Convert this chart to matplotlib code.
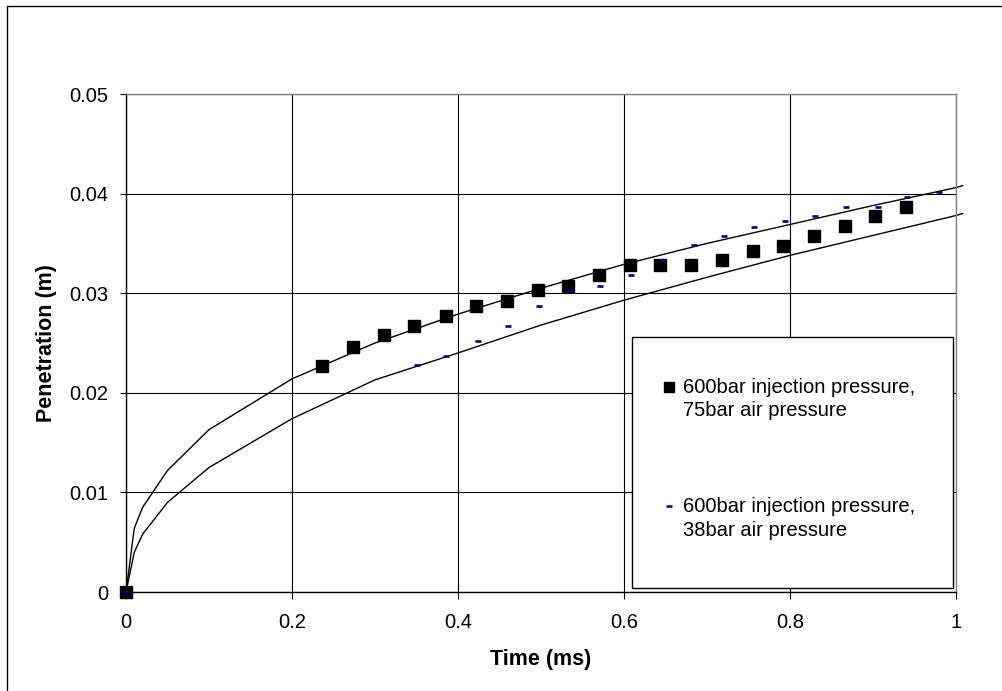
import matplotlib
matplotlib.use("Agg")
import matplotlib.pyplot as plt
import numpy as np
from matplotlib.lines import Line2D
from matplotlib.patches import Rectangle
from matplotlib.legend_handler import HandlerLine2D

plt.rcParams['font.family'] = ['Liberation Sans', 'DejaVu Sans']

# measured spray tip penetration, 600bar injection / 75bar air
t_75 = [0, 0.236, 0.273, 0.311, 0.347, 0.385, 0.422, 0.459, 0.496, 0.532, 0.570,
        0.607, 0.643, 0.681, 0.718, 0.755, 0.791, 0.829, 0.866, 0.902, 0.940]
p_75 = [0, 0.0227, 0.0246, 0.0258, 0.0267, 0.0277, 0.0287, 0.0292, 0.0303, 0.0307, 0.0318,
        0.0328, 0.0328, 0.0328, 0.0333, 0.0342, 0.0347, 0.0357, 0.0367, 0.0378, 0.0387]

# measured spray tip penetration, 600bar injection / 38bar air
t_38 = [0, 0.350, 0.386, 0.424, 0.460, 0.498, 0.535, 0.571, 0.609, 0.645,
        0.684, 0.721, 0.757, 0.794, 0.830, 0.868, 0.906, 0.941, 0.980]
p_38 = [0, 0.0228, 0.0237, 0.0252, 0.0267, 0.0287, 0.0303, 0.0307, 0.0318, 0.0333,
        0.0348, 0.0357, 0.0366, 0.0372, 0.0378, 0.0387, 0.0387, 0.0397, 0.0402]

# correlation curves (solid lines), they run a little past the axis end
t_fit = [0, 0.01, 0.02, 0.05, 0.1, 0.2, 0.3, 0.4, 0.5, 0.6, 0.7, 0.8, 0.9, 1.0, 1.008]
fit_75 = [0, 0.0064, 0.0085, 0.0122, 0.0163, 0.0214, 0.0250, 0.0279, 0.0305,
          0.0329, 0.0350, 0.0369, 0.0388, 0.0406, 0.0408]
fit_38 = [0, 0.0040, 0.0058, 0.0090, 0.0125, 0.0174, 0.0213, 0.0240, 0.0268,
          0.0293, 0.0316, 0.0338, 0.0358, 0.0378, 0.0380]

x_ticks = [0, 0.2, 0.4, 0.6, 0.8, 1.0]
x_labels = ['0', '0.2', '0.4', '0.6', '0.8', '1']
y_ticks = [0, 0.01, 0.02, 0.03, 0.04, 0.05]
y_labels = ['0', '0.01', '0.02', '0.03', '0.04', '0.05']

label_75 = '600bar injection pressure,\n75bar air pressure'
label_38 = '600bar injection pressure,\n38bar air pressure'


class FirstLineHandler(HandlerLine2D):
    """Puts the legend marker level with the first line of a two-line label."""
    def __init__(self, shift, **kw):
        super().__init__(**kw)
        self.shift = shift

    def create_artists(self, *args, **kwargs):
        artists = super().create_artists(*args, **kwargs)
        for a in artists:
            a.set_ydata(np.asarray(a.get_ydata(), dtype=float) + self.shift)
        return artists


W, H = 1003, 691
fig = plt.figure(figsize=(W / 100, H / 100), dpi=100)
ax = fig.add_axes([126 / W, 1 - 592 / H, 830 / W, 498 / H])

ax.plot(t_fit, fit_75, color='black', lw=1.0, zorder=2, clip_on=False)
ax.plot(t_fit, fit_38, color='black', lw=1.0, zorder=2, clip_on=False)
ax.plot(t_75, p_75, linestyle='none', marker='s', markersize=8, color='black',
        clip_on=False, zorder=3)
ax.plot(t_38, p_38, linestyle='none', marker='_', markersize=3.8, markeredgewidth=1.9,
        color='#000080', clip_on=False, zorder=3)

ax.set_xlim(0, 1)
ax.set_ylim(0, 0.05)
ax.set_xticks(x_ticks)
ax.set_xticklabels(x_labels)
ax.set_yticks(y_ticks)
ax.set_yticklabels(y_labels)
ax.tick_params(axis='x', length=5, width=0.8, pad=10, labelsize=14.5)
ax.tick_params(axis='y', length=4, width=0.8, pad=9, labelsize=14.5)
ax.grid(True, color='black', lw=0.8)
ax.set_axisbelow(True)
for side in ['left', 'bottom']:
    ax.spines[side].set_color('black')
    ax.spines[side].set_linewidth(1.0)
for side in ['top', 'right']:
    ax.spines[side].set_color('#808080')
    ax.spines[side].set_linewidth(1.0)

ax.set_xlabel('Time (ms)', fontsize=15.5, fontweight='bold')
ax.set_ylabel('Penetration (m)', fontsize=15.5, fontweight='bold')
ax.xaxis.set_label_coords(0.5, -(649 - 592) / 498)
ax.yaxis.set_label_coords(-(126 - 57) / 830, 0.5)

# legend box drawn separately so its size matches the original
ax.add_patch(Rectangle((632 / W, 1 - 588 / H), 321 / W, 251 / H, transform=fig.transFigure,
                       facecolor='white', edgecolor='black', lw=1.0, clip_on=False, zorder=4))
h_75 = Line2D([], [], linestyle='none', marker='s', markersize=7, color='black')
h_38 = Line2D([], [], linestyle='none', marker='_', markersize=4, markeredgewidth=1.8,
              color='#000080')
leg = ax.legend([h_75, h_38], [label_75, label_38], loc='upper left',
                bbox_to_anchor=(663 / W, 1 - 378 / H), bbox_transform=fig.transFigure,
                frameon=False, borderpad=0, borderaxespad=0, handlelength=0.6,
                handletextpad=0.4, labelspacing=3.8, fontsize=14.5,
                handler_map={Line2D: FirstLineHandler(shift=9.5)})
leg.set_zorder(5)
for t in leg.get_texts():
    t.set_linespacing(1.3)

# outer chart border (only top and left visible in the original)
fig.add_artist(Rectangle((7 / W, -0.1), 2, 1.1 - 6 / H, transform=fig.transFigure,
                         fill=False, edgecolor='black', lw=1.0))

fig.savefig('out.png', dpi=100)
